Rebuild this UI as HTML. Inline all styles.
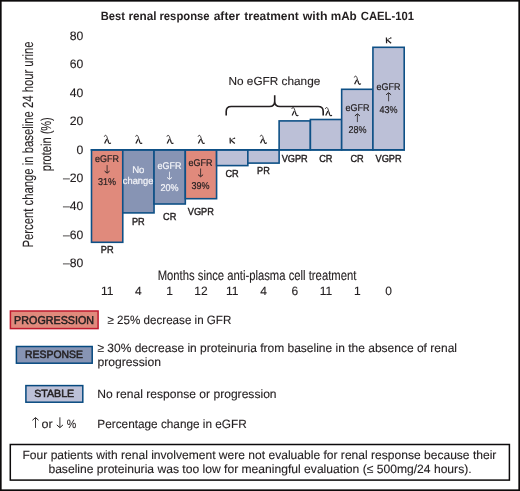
<!DOCTYPE html>
<html><head><meta charset="utf-8"><style>
html,body{margin:0;padding:0;background:#fff;}
svg{display:block;will-change:transform;text-rendering:geometricPrecision;}
</style></head><body>
<svg width="520" height="491" viewBox="0 0 520 491">
<rect width="520" height="491" fill="#fff"/>
<rect x="91.50" y="149.80" width="31.27" height="92.50" fill="#e08a7c" stroke="#0e5086" stroke-width="1.6"/>
<rect x="122.77" y="149.80" width="31.27" height="63.10" fill="#8794b4" stroke="#0e5086" stroke-width="1.6"/>
<rect x="154.04" y="149.80" width="31.27" height="54.20" fill="#8794b4" stroke="#0e5086" stroke-width="1.6"/>
<rect x="185.31" y="149.80" width="31.27" height="48.90" fill="#e08a7c" stroke="#0e5086" stroke-width="1.6"/>
<rect x="216.58" y="149.80" width="31.27" height="15.80" fill="#bcc0d7" stroke="#0e5086" stroke-width="1.6"/>
<rect x="247.85" y="149.80" width="31.27" height="13.30" fill="#bcc0d7" stroke="#0e5086" stroke-width="1.6"/>
<rect x="279.12" y="120.90" width="31.27" height="28.90" fill="#bcc0d7" stroke="#0e5086" stroke-width="1.6"/>
<rect x="310.39" y="119.50" width="31.27" height="30.30" fill="#bcc0d7" stroke="#0e5086" stroke-width="1.6"/>
<rect x="341.66" y="89.30" width="31.27" height="60.50" fill="#bcc0d7" stroke="#0e5086" stroke-width="1.6"/>
<rect x="372.93" y="47.30" width="31.27" height="102.50" fill="#bcc0d7" stroke="#0e5086" stroke-width="1.6"/>
<line x1="90.70" y1="149.8" x2="405.00" y2="149.8" stroke="#0e5086" stroke-width="1.8"/>
<text x="100.75" y="19.90" font-family="Liberation Sans" font-size="12" text-anchor="start" font-weight="bold" fill="#231f20" textLength="24.19" lengthAdjust="spacingAndGlyphs" >Best</text>
<text x="128.42" y="19.90" font-family="Liberation Sans" font-size="12" text-anchor="start" font-weight="bold" fill="#231f20" textLength="28.11" lengthAdjust="spacingAndGlyphs" >renal</text>
<text x="159.46" y="19.90" font-family="Liberation Sans" font-size="12" text-anchor="start" font-weight="bold" fill="#231f20" textLength="50.13" lengthAdjust="spacingAndGlyphs" >response</text>
<text x="213.65" y="19.90" font-family="Liberation Sans" font-size="12" text-anchor="start" font-weight="bold" fill="#231f20" textLength="26.24" lengthAdjust="spacingAndGlyphs" >after</text>
<text x="244.26" y="19.90" font-family="Liberation Sans" font-size="12" text-anchor="start" font-weight="bold" fill="#231f20" textLength="54.58" lengthAdjust="spacingAndGlyphs" >treatment</text>
<text x="302.74" y="19.90" font-family="Liberation Sans" font-size="12" text-anchor="start" font-weight="bold" fill="#231f20" textLength="24.72" lengthAdjust="spacingAndGlyphs" >with</text>
<text x="330.73" y="19.90" font-family="Liberation Sans" font-size="12" text-anchor="start" font-weight="bold" fill="#231f20" textLength="26.06" lengthAdjust="spacingAndGlyphs" >mAb</text>
<text x="360.74" y="19.90" font-family="Liberation Sans" font-size="12" text-anchor="start" font-weight="bold" fill="#231f20" textLength="53.27" lengthAdjust="spacingAndGlyphs" >CAEL-101</text>
<text x="83.40" y="39.83" font-family="Liberation Sans" font-size="12.2" text-anchor="end" font-weight="normal" fill="#231f20"  stroke="#231f20" stroke-width="0.12">80</text>
<text x="83.40" y="68.26" font-family="Liberation Sans" font-size="12.2" text-anchor="end" font-weight="normal" fill="#231f20"  stroke="#231f20" stroke-width="0.12">60</text>
<text x="83.40" y="96.69" font-family="Liberation Sans" font-size="12.2" text-anchor="end" font-weight="normal" fill="#231f20"  stroke="#231f20" stroke-width="0.12">40</text>
<text x="83.40" y="125.12" font-family="Liberation Sans" font-size="12.2" text-anchor="end" font-weight="normal" fill="#231f20"  stroke="#231f20" stroke-width="0.12">20</text>
<text x="83.40" y="153.55" font-family="Liberation Sans" font-size="12.2" text-anchor="end" font-weight="normal" fill="#231f20"  stroke="#231f20" stroke-width="0.12">0</text>
<text x="83.40" y="181.98" font-family="Liberation Sans" font-size="12.2" text-anchor="end" font-weight="normal" fill="#231f20"  stroke="#231f20" stroke-width="0.12">–20</text>
<text x="83.40" y="210.41" font-family="Liberation Sans" font-size="12.2" text-anchor="end" font-weight="normal" fill="#231f20"  stroke="#231f20" stroke-width="0.12">–40</text>
<text x="83.40" y="238.84" font-family="Liberation Sans" font-size="12.2" text-anchor="end" font-weight="normal" fill="#231f20"  stroke="#231f20" stroke-width="0.12">–60</text>
<text x="83.40" y="267.27" font-family="Liberation Sans" font-size="12.2" text-anchor="end" font-weight="normal" fill="#231f20"  stroke="#231f20" stroke-width="0.12">–80</text>
<text transform="translate(33.1,144.5) rotate(-90)" font-family="Liberation Sans" font-size="14.8" text-anchor="middle" fill="#231f20" stroke="#231f20" stroke-width="0.12" textLength="206" lengthAdjust="spacingAndGlyphs">Percent change in baseline 24 hour urine</text>
<text transform="translate(50.5,144.2) rotate(-90)" font-family="Liberation Sans" font-size="14.3" text-anchor="middle" fill="#231f20" stroke="#231f20" stroke-width="0.12" textLength="54" lengthAdjust="spacingAndGlyphs">protein (%)</text>
<text x="157.68" y="279.70" font-family="Liberation Sans" font-size="13.8" text-anchor="start" font-weight="normal" fill="#231f20" textLength="198.7" lengthAdjust="spacingAndGlyphs"  stroke="#231f20" stroke-width="0.12">Months since anti-plasma cell treatment</text>
<text x="107.13" y="295.40" font-family="Liberation Sans" font-size="12" text-anchor="middle" font-weight="normal" fill="#231f20"  stroke="#231f20" stroke-width="0.12">11</text>
<text x="138.41" y="295.40" font-family="Liberation Sans" font-size="12" text-anchor="middle" font-weight="normal" fill="#231f20"  stroke="#231f20" stroke-width="0.12">4</text>
<text x="169.68" y="295.40" font-family="Liberation Sans" font-size="12" text-anchor="middle" font-weight="normal" fill="#231f20"  stroke="#231f20" stroke-width="0.12">1</text>
<text x="200.94" y="295.40" font-family="Liberation Sans" font-size="12" text-anchor="middle" font-weight="normal" fill="#231f20"  stroke="#231f20" stroke-width="0.12">12</text>
<text x="232.21" y="295.40" font-family="Liberation Sans" font-size="12" text-anchor="middle" font-weight="normal" fill="#231f20"  stroke="#231f20" stroke-width="0.12">11</text>
<text x="263.49" y="295.40" font-family="Liberation Sans" font-size="12" text-anchor="middle" font-weight="normal" fill="#231f20"  stroke="#231f20" stroke-width="0.12">4</text>
<text x="294.75" y="295.40" font-family="Liberation Sans" font-size="12" text-anchor="middle" font-weight="normal" fill="#231f20"  stroke="#231f20" stroke-width="0.12">6</text>
<text x="326.02" y="295.40" font-family="Liberation Sans" font-size="12" text-anchor="middle" font-weight="normal" fill="#231f20"  stroke="#231f20" stroke-width="0.12">11</text>
<text x="357.29" y="295.40" font-family="Liberation Sans" font-size="12" text-anchor="middle" font-weight="normal" fill="#231f20"  stroke="#231f20" stroke-width="0.12">1</text>
<text x="388.56" y="295.40" font-family="Liberation Sans" font-size="12" text-anchor="middle" font-weight="normal" fill="#231f20"  stroke="#231f20" stroke-width="0.12">0</text>
<g transform="translate(107.3,143.9)"><path d="M-3.0 -7.2 C-2.8 -8.7 -1.2 -9.3 -0.5 -7.4 L1.0 -2.6" fill="none" stroke="#231f20" stroke-width="0.85"/><path d="M0.6 -3.6 L1.3 -1.4 Q1.8 -0.3 2.6 -0.4 Q3.1 -0.6 3.4 -1.2" fill="none" stroke="#231f20" stroke-width="1.15"/><path d="M-0.5 -5.0 L-2.7 -0.5" fill="none" stroke="#231f20" stroke-width="1.25"/></g>
<g transform="translate(138.6,143.9)"><path d="M-3.0 -7.2 C-2.8 -8.7 -1.2 -9.3 -0.5 -7.4 L1.0 -2.6" fill="none" stroke="#231f20" stroke-width="0.85"/><path d="M0.6 -3.6 L1.3 -1.4 Q1.8 -0.3 2.6 -0.4 Q3.1 -0.6 3.4 -1.2" fill="none" stroke="#231f20" stroke-width="1.15"/><path d="M-0.5 -5.0 L-2.7 -0.5" fill="none" stroke="#231f20" stroke-width="1.25"/></g>
<g transform="translate(169.9,143.9)"><path d="M-3.0 -7.2 C-2.8 -8.7 -1.2 -9.3 -0.5 -7.4 L1.0 -2.6" fill="none" stroke="#231f20" stroke-width="0.85"/><path d="M0.6 -3.6 L1.3 -1.4 Q1.8 -0.3 2.6 -0.4 Q3.1 -0.6 3.4 -1.2" fill="none" stroke="#231f20" stroke-width="1.15"/><path d="M-0.5 -5.0 L-2.7 -0.5" fill="none" stroke="#231f20" stroke-width="1.25"/></g>
<g transform="translate(201.1,143.9)"><path d="M-3.0 -7.2 C-2.8 -8.7 -1.2 -9.3 -0.5 -7.4 L1.0 -2.6" fill="none" stroke="#231f20" stroke-width="0.85"/><path d="M0.6 -3.6 L1.3 -1.4 Q1.8 -0.3 2.6 -0.4 Q3.1 -0.6 3.4 -1.2" fill="none" stroke="#231f20" stroke-width="1.15"/><path d="M-0.5 -5.0 L-2.7 -0.5" fill="none" stroke="#231f20" stroke-width="1.25"/></g>
<g transform="translate(232.5,143.9)"><path d="M-2.4 -6.1 L-2.2 -0.4" fill="none" stroke="#231f20" stroke-width="1.25"/><path d="M-1.7 -3.4 Q0.0 -5.0 1.6 -5.6" fill="none" stroke="#231f20" stroke-width="0.8"/><circle cx="2.0" cy="-5.7" r="0.75" fill="#231f20"/><path d="M-1.5 -3.6 L2.3 -0.5" fill="none" stroke="#231f20" stroke-width="1.25"/></g>
<g transform="translate(263.2,143.8)"><path d="M-3.0 -7.2 C-2.8 -8.7 -1.2 -9.3 -0.5 -7.4 L1.0 -2.6" fill="none" stroke="#231f20" stroke-width="0.85"/><path d="M0.6 -3.6 L1.3 -1.4 Q1.8 -0.3 2.6 -0.4 Q3.1 -0.6 3.4 -1.2" fill="none" stroke="#231f20" stroke-width="1.15"/><path d="M-0.5 -5.0 L-2.7 -0.5" fill="none" stroke="#231f20" stroke-width="1.25"/></g>
<g transform="translate(294.8,116.1)"><path d="M-3.0 -7.2 C-2.8 -8.7 -1.2 -9.3 -0.5 -7.4 L1.0 -2.6" fill="none" stroke="#231f20" stroke-width="0.85"/><path d="M0.6 -3.6 L1.3 -1.4 Q1.8 -0.3 2.6 -0.4 Q3.1 -0.6 3.4 -1.2" fill="none" stroke="#231f20" stroke-width="1.15"/><path d="M-0.5 -5.0 L-2.7 -0.5" fill="none" stroke="#231f20" stroke-width="1.25"/></g>
<g transform="translate(328.4,116.1)"><path d="M-3.0 -7.2 C-2.8 -8.7 -1.2 -9.3 -0.5 -7.4 L1.0 -2.6" fill="none" stroke="#231f20" stroke-width="0.85"/><path d="M0.6 -3.6 L1.3 -1.4 Q1.8 -0.3 2.6 -0.4 Q3.1 -0.6 3.4 -1.2" fill="none" stroke="#231f20" stroke-width="1.15"/><path d="M-0.5 -5.0 L-2.7 -0.5" fill="none" stroke="#231f20" stroke-width="1.25"/></g>
<g transform="translate(357.3,84.7)"><path d="M-3.0 -7.2 C-2.8 -8.7 -1.2 -9.3 -0.5 -7.4 L1.0 -2.6" fill="none" stroke="#231f20" stroke-width="0.85"/><path d="M0.6 -3.6 L1.3 -1.4 Q1.8 -0.3 2.6 -0.4 Q3.1 -0.6 3.4 -1.2" fill="none" stroke="#231f20" stroke-width="1.15"/><path d="M-0.5 -5.0 L-2.7 -0.5" fill="none" stroke="#231f20" stroke-width="1.25"/></g>
<g transform="translate(388.8,43.7)"><path d="M-2.4 -6.1 L-2.2 -0.4" fill="none" stroke="#231f20" stroke-width="1.25"/><path d="M-1.7 -3.4 Q0.0 -5.0 1.6 -5.6" fill="none" stroke="#231f20" stroke-width="0.8"/><circle cx="2.0" cy="-5.7" r="0.75" fill="#231f20"/><path d="M-1.5 -3.6 L2.3 -0.5" fill="none" stroke="#231f20" stroke-width="1.25"/></g>
<text x="107.20" y="252.80" font-family="Liberation Sans" font-size="10.2" text-anchor="middle" font-weight="normal" fill="#231f20" textLength="12.78" lengthAdjust="spacingAndGlyphs"  stroke="#231f20" stroke-width="0.4">PR</text>
<text x="138.30" y="224.90" font-family="Liberation Sans" font-size="10.2" text-anchor="middle" font-weight="normal" fill="#231f20" textLength="12.78" lengthAdjust="spacingAndGlyphs"  stroke="#231f20" stroke-width="0.4">PR</text>
<text x="169.70" y="219.90" font-family="Liberation Sans" font-size="10.2" text-anchor="middle" font-weight="normal" fill="#231f20" textLength="13.29" lengthAdjust="spacingAndGlyphs"  stroke="#231f20" stroke-width="0.4">CR</text>
<text x="200.80" y="215.30" font-family="Liberation Sans" font-size="10.2" text-anchor="middle" font-weight="normal" fill="#231f20" textLength="26.07" lengthAdjust="spacingAndGlyphs"  stroke="#231f20" stroke-width="0.4">VGPR</text>
<text x="232.10" y="176.80" font-family="Liberation Sans" font-size="10.2" text-anchor="middle" font-weight="normal" fill="#231f20" textLength="13.29" lengthAdjust="spacingAndGlyphs"  stroke="#231f20" stroke-width="0.4">CR</text>
<text x="263.50" y="174.10" font-family="Liberation Sans" font-size="10.2" text-anchor="middle" font-weight="normal" fill="#231f20" textLength="12.78" lengthAdjust="spacingAndGlyphs"  stroke="#231f20" stroke-width="0.4">PR</text>
<text x="294.70" y="162.00" font-family="Liberation Sans" font-size="10.2" text-anchor="middle" font-weight="normal" fill="#231f20" textLength="26.07" lengthAdjust="spacingAndGlyphs"  stroke="#231f20" stroke-width="0.4">VGPR</text>
<text x="325.80" y="162.00" font-family="Liberation Sans" font-size="10.2" text-anchor="middle" font-weight="normal" fill="#231f20" textLength="13.29" lengthAdjust="spacingAndGlyphs"  stroke="#231f20" stroke-width="0.4">CR</text>
<text x="357.10" y="162.40" font-family="Liberation Sans" font-size="10.2" text-anchor="middle" font-weight="normal" fill="#231f20" textLength="13.29" lengthAdjust="spacingAndGlyphs"  stroke="#231f20" stroke-width="0.4">CR</text>
<text x="388.60" y="162.40" font-family="Liberation Sans" font-size="10.2" text-anchor="middle" font-weight="normal" fill="#231f20" textLength="26.07" lengthAdjust="spacingAndGlyphs"  stroke="#231f20" stroke-width="0.4">VGPR</text>
<text x="107.10" y="162.00" font-family="Liberation Sans" font-size="9.8" text-anchor="middle" font-weight="normal" fill="#231f20" textLength="24.0" lengthAdjust="spacingAndGlyphs"  stroke="#231f20" stroke-width="0.2">eGFR</text>
<path d="M107.10 165.10 V172.80" fill="none" stroke="#231f20" stroke-width="0.8"/>
<path d="M104.60 171.10 L107.10 173.15 L109.60 171.10" fill="none" stroke="#231f20" stroke-width="1.0" stroke-linejoin="round"/>
<text x="107.10" y="184.90" font-family="Liberation Sans" font-size="9.9" text-anchor="middle" font-weight="normal" fill="#231f20" textLength="18.01" lengthAdjust="spacingAndGlyphs"  stroke="#231f20" stroke-width="0.2">31%</text>
<text x="138.30" y="172.80" font-family="Liberation Sans" font-size="9.8" text-anchor="middle" font-weight="normal" fill="#f4f5f9" textLength="12.27" lengthAdjust="spacingAndGlyphs"  stroke="#f4f5f9" stroke-width="0.2">No</text>
<text x="138.10" y="183.90" font-family="Liberation Sans" font-size="9.8" text-anchor="middle" font-weight="normal" fill="#f4f5f9" textLength="30.51" lengthAdjust="spacingAndGlyphs"  stroke="#f4f5f9" stroke-width="0.2">change</text>
<text x="169.50" y="168.60" font-family="Liberation Sans" font-size="9.8" text-anchor="middle" font-weight="normal" fill="#f4f5f9" textLength="24.0" lengthAdjust="spacingAndGlyphs"  stroke="#f4f5f9" stroke-width="0.2">eGFR</text>
<path d="M169.50 171.70 V179.10" fill="none" stroke="#f4f5f9" stroke-width="0.8"/>
<path d="M167.00 177.40 L169.50 179.45 L172.00 177.40" fill="none" stroke="#f4f5f9" stroke-width="1.0" stroke-linejoin="round"/>
<text x="169.50" y="190.80" font-family="Liberation Sans" font-size="9.9" text-anchor="middle" font-weight="normal" fill="#f4f5f9" textLength="18.01" lengthAdjust="spacingAndGlyphs"  stroke="#f4f5f9" stroke-width="0.2">20%</text>
<text x="200.60" y="166.10" font-family="Liberation Sans" font-size="9.8" text-anchor="middle" font-weight="normal" fill="#231f20" textLength="24.0" lengthAdjust="spacingAndGlyphs"  stroke="#231f20" stroke-width="0.2">eGFR</text>
<path d="M200.60 168.50 V176.40" fill="none" stroke="#231f20" stroke-width="0.8"/>
<path d="M198.10 174.70 L200.60 176.75 L203.10 174.70" fill="none" stroke="#231f20" stroke-width="1.0" stroke-linejoin="round"/>
<text x="200.60" y="188.70" font-family="Liberation Sans" font-size="9.9" text-anchor="middle" font-weight="normal" fill="#231f20" textLength="18.01" lengthAdjust="spacingAndGlyphs"  stroke="#231f20" stroke-width="0.2">39%</text>
<text x="357.40" y="110.90" font-family="Liberation Sans" font-size="9.8" text-anchor="middle" font-weight="normal" fill="#231f20" textLength="24.0" lengthAdjust="spacingAndGlyphs"  stroke="#231f20" stroke-width="0.2">eGFR</text>
<path d="M357.40 114.20 V122.10" fill="none" stroke="#231f20" stroke-width="0.8"/>
<path d="M354.90 115.90 L357.40 113.85 L359.90 115.90" fill="none" stroke="#231f20" stroke-width="1.0" stroke-linejoin="round"/>
<text x="357.40" y="133.40" font-family="Liberation Sans" font-size="9.9" text-anchor="middle" font-weight="normal" fill="#231f20" textLength="18.01" lengthAdjust="spacingAndGlyphs"  stroke="#231f20" stroke-width="0.2">28%</text>
<text x="388.60" y="90.00" font-family="Liberation Sans" font-size="9.8" text-anchor="middle" font-weight="normal" fill="#231f20" textLength="24.0" lengthAdjust="spacingAndGlyphs"  stroke="#231f20" stroke-width="0.2">eGFR</text>
<path d="M388.60 93.10 V101.30" fill="none" stroke="#231f20" stroke-width="0.8"/>
<path d="M386.10 94.80 L388.60 92.75 L391.10 94.80" fill="none" stroke="#231f20" stroke-width="1.0" stroke-linejoin="round"/>
<text x="388.60" y="112.70" font-family="Liberation Sans" font-size="9.9" text-anchor="middle" font-weight="normal" fill="#231f20" textLength="18.01" lengthAdjust="spacingAndGlyphs"  stroke="#231f20" stroke-width="0.2">43%</text>
<text x="228.53" y="84.60" font-family="Liberation Sans" font-size="11.6" text-anchor="start" font-weight="normal" fill="#231f20" textLength="91.78" lengthAdjust="spacingAndGlyphs"  stroke="#231f20" stroke-width="0.12">No eGFR change</text>
<path d="M226.2 115.6 V111.5 Q226.2 106.5 231.2 106.5 H269.5 Q274.7 106.5 274.7 101.3 V95.2 M274.7 101.3 Q274.7 106.5 279.9 106.5 H318.2 Q323.2 106.5 323.2 111.5 V115.6" fill="none" stroke="#231f20" stroke-width="1.6"/>
<rect x="10.4" y="311.0" width="87.70" height="17.60" fill="#e08a7c" stroke="#c01a2e" stroke-width="1.5"/>
<text x="14.12" y="323.80" font-family="Liberation Sans" font-size="11.3" text-anchor="start" font-weight="normal" fill="#231f20" textLength="79.95" lengthAdjust="spacingAndGlyphs"  stroke="#231f20" stroke-width="0.5">PROGRESSION</text>
<rect x="16.4" y="346.5" width="75.80" height="16.70" fill="#8794b4" stroke="#06497f" stroke-width="1.5"/>
<text x="25.05" y="358.10" font-family="Liberation Sans" font-size="10.7" text-anchor="start" font-weight="normal" fill="#231f20" textLength="57.9" lengthAdjust="spacingAndGlyphs"  stroke="#231f20" stroke-width="0.5">RESPONSE</text>
<rect x="25.9" y="385.6" width="56.90" height="16.60" fill="#bcc0d7" stroke="#06497f" stroke-width="1.5"/>
<text x="34.21" y="396.60" font-family="Liberation Sans" font-size="10.4" text-anchor="start" font-weight="normal" fill="#231f20" textLength="39.94" lengthAdjust="spacingAndGlyphs"  stroke="#231f20" stroke-width="0.5">STABLE</text>
<text x="107.53" y="323.70" font-family="Liberation Sans" font-size="12" text-anchor="start" font-weight="normal" fill="#231f20" textLength="123.82" lengthAdjust="spacingAndGlyphs"  stroke="#231f20" stroke-width="0.12">≥ 25% decrease in GFR</text>
<text x="97.42" y="351.50" font-family="Liberation Sans" font-size="12" text-anchor="start" font-weight="normal" fill="#231f20" textLength="359.58" lengthAdjust="spacingAndGlyphs"  stroke="#231f20" stroke-width="0.12">≥ 30% decrease in proteinuria from baseline in the absence of renal</text>
<text x="97.41" y="365.50" font-family="Liberation Sans" font-size="12" text-anchor="start" font-weight="normal" fill="#231f20" textLength="63.58" lengthAdjust="spacingAndGlyphs"  stroke="#231f20" stroke-width="0.12">progression</text>
<text x="97.21" y="397.50" font-family="Liberation Sans" font-size="12" text-anchor="start" font-weight="normal" fill="#231f20" textLength="179.38" lengthAdjust="spacingAndGlyphs"  stroke="#231f20" stroke-width="0.12">No renal response or progression</text>
<text x="97.33" y="427.60" font-family="Liberation Sans" font-size="12" text-anchor="start" font-weight="normal" fill="#231f20" textLength="149.43" lengthAdjust="spacingAndGlyphs"  stroke="#231f20" stroke-width="0.12">Percentage change in eGFR</text>
<path d="M35.50 417.90 V427.90" fill="none" stroke="#231f20" stroke-width="0.9"/>
<path d="M32.40 420.30 L35.50 417.55 L38.60 420.30" fill="none" stroke="#231f20" stroke-width="1.0" stroke-linejoin="round"/>
<text x="41.57" y="428.00" font-family="Liberation Sans" font-size="12" text-anchor="start" font-weight="normal" fill="#231f20" textLength="11.14" lengthAdjust="spacingAndGlyphs"  stroke="#231f20" stroke-width="0.12">or</text>
<path d="M59.90 417.30 V427.30" fill="none" stroke="#231f20" stroke-width="0.9"/>
<path d="M56.80 424.90 L59.90 427.65 L63.00 424.90" fill="none" stroke="#231f20" stroke-width="1.0" stroke-linejoin="round"/>
<text x="66.72" y="428.00" font-family="Liberation Sans" font-size="12" text-anchor="start" font-weight="normal" fill="#231f20" textLength="9.46" lengthAdjust="spacingAndGlyphs"  stroke="#231f20" stroke-width="0.12">%</text>
<rect x="10.3" y="444.5" width="499.1" height="35.6" fill="none" stroke="#0d0b0c" stroke-width="1.5"/>
<text x="22.51" y="458.70" font-family="Liberation Sans" font-size="12" text-anchor="start" font-weight="normal" fill="#231f20" textLength="473.89" lengthAdjust="spacingAndGlyphs"  stroke="#231f20" stroke-width="0.12">Four patients with renal involvement were not evaluable for renal response because their</text>
<text x="48.41" y="472.70" font-family="Liberation Sans" font-size="12" text-anchor="start" font-weight="normal" fill="#231f20" textLength="423.18" lengthAdjust="spacingAndGlyphs"  stroke="#231f20" stroke-width="0.12">baseline proteinuria was too low for meaningful evaluation (≤ 500mg/24 hours).</text>
<rect x="0.825" y="0.825" width="518.35" height="489.35" fill="none" stroke="#0d0b0c" stroke-width="1.65"/>
</svg>
</body></html>
